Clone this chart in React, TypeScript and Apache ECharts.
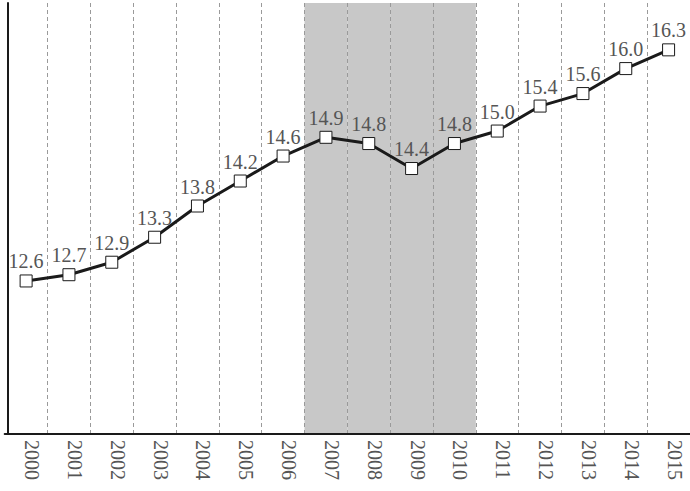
import React, { useEffect, useRef } from "react";
import * as echarts from "echarts";

const years = [
  "2000", "2001", "2002", "2003", "2004", "2005", "2006", "2007",
  "2008", "2009", "2010", "2011", "2012", "2013", "2014", "2015",
];
const values = [
  12.6, 12.7, 12.9, 13.3, 13.8, 14.2, 14.6, 14.9,
  14.8, 14.4, 14.8, 15.0, 15.4, 15.6, 16.0, 16.3,
];
const shadedYears = ["2007", "2008", "2009", "2010"];
const yMin = 10.15;
const yMax = 17.05;

const FONT = "'Liberation Serif', 'DejaVu Serif', serif";

export default function App() {
  const ref = useRef<HTMLDivElement>(null);
  useEffect(() => {
    if (!ref.current) return;
    const chart = echarts.init(ref.current, null, { renderer: "svg" });
    const shade = years.map((y) => (shadedYears.includes(y) ? yMax : "-"));
    chart.setOption({
      animation: false,
      grid: { left: 4.7, top: 3, width: 688, height: 431, containLabel: false },
      xAxis: {
        type: "category",
        data: years,
        boundaryGap: true,
        z: 2,
        axisLine: { show: true, lineStyle: { color: "#1a1a1a", width: 2 } },
        axisTick: { show: false },
        axisLabel: {
          rotate: -90,
          margin: 6,
          verticalAlign: "bottom",
          lineHeight: 12,
          fontFamily: FONT,
          fontSize: 20,
          color: "#555",
        },
        splitLine: {
          show: true,
          showMinLine: false,
          interval: 0,
          lineStyle: { color: "#9a9a9a", width: 1, type: [4, 3] },
        },
      },
      yAxis: {
        type: "value",
        min: yMin,
        max: yMax,
        offset: -3,
        axisLine: { show: true, lineStyle: { color: "#1a1a1a", width: 2 } },
        axisTick: { show: false },
        axisLabel: { show: false },
        splitLine: { show: false },
      },
      series: [
        {
          type: "bar",
          data: shade,
          barWidth: "100%",
          barCategoryGap: 0,
          z: 1,
          itemStyle: { color: "#c8c8c8" },
          silent: true,
          clip: true,
        },
        {
          type: "line",
          data: values,
          z: 3,
          symbol: "rect",
          symbolSize: 12,
          lineStyle: { color: "#1a1a1a", width: 3 },
          itemStyle: { color: "#ffffff", borderColor: "#1a1a1a", borderWidth: 1 },
          label: {
            show: true,
            position: "top",
            distance: 3,
            fontFamily: FONT,
            fontSize: 20,
            color: "#555",
            formatter: (p: any) => Number(p.value).toFixed(1),
          },
        },
      ],
    });
    return () => chart.dispose();
  }, []);
  return (
    <div
      ref={ref}
      style={{ position: "absolute", left: 0, top: 0, width: 690, height: 491 }}
    />
  );
}
